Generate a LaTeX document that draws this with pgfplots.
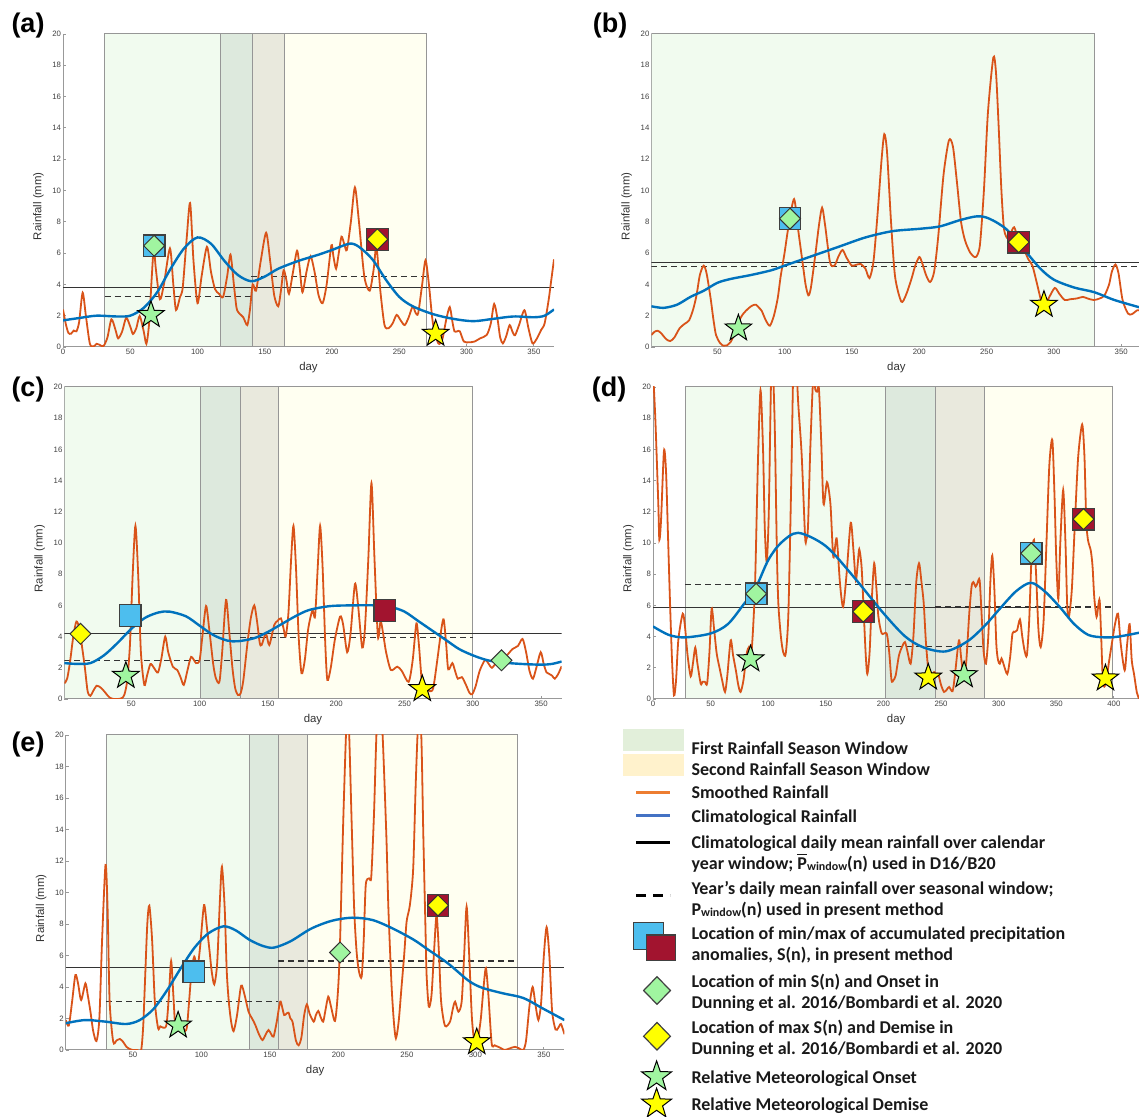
\documentclass[border=0pt]{standalone}
\usepackage{fontspec}
\setmainfont{Carlito}
\newfontfamily\arialfont{Liberation Sans}
\usepackage{pgfplots}
\pgfplotsset{compat=1.18}

\definecolor{orC}{RGB}{217,83,25}
\definecolor{blC}{RGB}{0,114,189}
\definecolor{mBlue}{RGB}{77,190,238}
\definecolor{mRed}{RGB}{162,20,47}
\definecolor{mGreen}{RGB}{160,245,160}
\definecolor{mYellow}{RGB}{255,255,0}
\definecolor{sG}{RGB}{241,251,239}
\definecolor{sGD}{RGB}{221,233,221}
\definecolor{sB}{RGB}{233,233,221}
\definecolor{sY}{RGB}{255,255,241}
\definecolor{sEdge}{RGB}{150,150,150}
\definecolor{lG}{RGB}{226,239,218}
\definecolor{lY}{RGB}{255,242,204}
\definecolor{lO}{RGB}{237,125,49}
\definecolor{lB}{RGB}{68,114,196}

\pgfdeclareplotmark{fstar}{%
  \pgfpathmoveto{\pgfpointpolar{90}{\pgfplotmarksize}}%
  \pgfpathlineto{\pgfpointpolar{126}{0.4\pgfplotmarksize}}%
  \pgfpathlineto{\pgfpointpolar{162}{\pgfplotmarksize}}%
  \pgfpathlineto{\pgfpointpolar{198}{0.4\pgfplotmarksize}}%
  \pgfpathlineto{\pgfpointpolar{234}{\pgfplotmarksize}}%
  \pgfpathlineto{\pgfpointpolar{270}{0.4\pgfplotmarksize}}%
  \pgfpathlineto{\pgfpointpolar{306}{\pgfplotmarksize}}%
  \pgfpathlineto{\pgfpointpolar{342}{0.4\pgfplotmarksize}}%
  \pgfpathlineto{\pgfpointpolar{18}{\pgfplotmarksize}}%
  \pgfpathlineto{\pgfpointpolar{54}{0.4\pgfplotmarksize}}%
  \pgfpathclose
  \pgfusepathqfillstroke
}

\pgfplotsset{
  panel/.style={
    scale only axis, ymin=0, ymax=20, ytick={0,2,...,20},
    axis x line*=bottom, axis y line*=left,
    axis line style={draw=black!40, line width=0.5pt},
    tick style={black!40, line width=0.4pt},
    major tick length=1.6pt, tick align=inside,
    tick label style={font=\arialfont\fontsize{3.9}{4}\selectfont, text=black!75},
    xticklabel style={inner sep=0.6pt},
    yticklabel style={inner sep=0.8pt},
    /pgf/number format/assume math mode=true,
    xlabel={day}, ylabel={Rainfall (mm)},
    label style={font=\arialfont\fontsize{5.7}{6}\selectfont, text=black!80},
    ylabel style={at={(ticklabel cs:0.45)}},
  },
  orange/.style={orC, line width=0.9pt, smooth, tension=0.45, no marks},
  clim/.style={blC, line width=1.2pt, smooth, no marks},
  solidmean/.style={black!80, line width=0.7pt, no marks},
  dashmean/.style={black!80, line width=0.6pt, dash pattern=on 3pt off 2pt, no marks},
  sqB/.style={only marks, mark=square*, mark size=5.4pt, mark options={fill=mBlue, draw=black!75, line width=0.6pt}},
  sqR/.style={only marks, mark=square*, mark size=5.4pt, mark options={fill=mRed, draw=black!75, line width=0.6pt}},
  dG/.style={only marks, mark=square*, mark size=3.7pt, mark options={rotate=45, fill=mGreen, draw=black!80, line width=0.5pt}},
  dY/.style={only marks, mark=square*, mark size=3.7pt, mark options={rotate=45, fill=mYellow, draw=black!80, line width=0.5pt}},
  stG/.style={only marks, mark=fstar, mark size=7pt, mark options={fill=mGreen, draw=black, line width=0.5pt}},
  stY/.style={only marks, mark=fstar, mark size=7pt, mark options={fill=mYellow, draw=black, line width=0.5pt}},
}
\newcommand{\shadewin}[3]{\addplot[fill=#3, draw=sEdge, line width=0.5pt] coordinates {(#1,0) (#1,20) (#2,20) (#2,0)} -- cycle;}
\newcommand{\lstar}[1]{\filldraw[overlay, fill=#1, draw=black, line width=0.5pt] (16.6pt,0pt) +(90:7.9pt) -- +(126:3.15pt) -- +(162:7.9pt) -- +(198:3.15pt) -- +(234:7.9pt) -- +(270:3.15pt) -- +(306:7.9pt) -- +(342:3.15pt) -- +(18:7.9pt) -- +(54:3.15pt) -- cycle;}
\newcommand{\ldiam}[1]{\filldraw[overlay, fill=#1, draw=black!75, line width=0.6pt] (16.8pt,-6.3pt) -- (23.5pt,0.6pt) -- (16.8pt,7.5pt) -- (10.1pt,0.6pt) -- cycle;}

\begin{document}
\begin{tikzpicture}
\path[use as bounding box] (0,0) rectangle (569.5pt,558.5pt);
\tikzset{plab/.style={font=\arialfont\bfseries\fontsize{13.5}{14}\selectfont}}
\node[plab] at (14pt,545.5pt) {(a)};
\node[plab] at (305pt,545.5pt) {(b)};
\node[plab] at (14pt,363.5pt) {(c)};
\node[plab] at (304.5pt,363.5pt) {(d)};
\node[plab] at (14pt,186pt) {(e)};

% ---------------- (a)
\begin{axis}[panel, at={(31.5pt,385pt)}, anchor=south west, width=245.5pt, height=156.5pt,
  xmin=0, xmax=365, xtick={0,50,...,350}]
\shadewin{31}{117}{sG}
\shadewin{117}{141}{sGD}
\shadewin{141}{165}{sB}
\shadewin{165}{270}{sY}
\addplot[solidmean] coordinates {(0,3.8) (365,3.8)};
\addplot[dashmean] coordinates {(31,3.25) (140,3.25)};
\addplot[dashmean] coordinates {(140,4.5) (270,4.5)};
\addplot[orange] coordinates {(0,2.4) (2,1.5) (4,0.9) (6,0.85) (8,1.05) (10,1.0) (12,1.6) (14.6,3.47) (17,2.0) (20,0.2) (23,0.05) (25,0.2) (27,0.15) (30,0.05) (33,0.6) (36,1.77) (39,1.1) (41,0.55) (44,1.0) (47,1.87) (50,1.3) (52,0.83) (54.5,1.2) (57,1.98) (60,1.0) (62,0.2) (64,1.5) (66,4.5) (67.5,6.3) (69,5.0) (72,3.05) (75,4.0) (79.5,6.3) (82,4.0) (84,2.36) (87,3.2) (89,3.8) (92,7.0) (94.5,9.2) (97,5.5) (100,2.8) (103,4.5) (107,6.4) (110,4.8) (113,3.7) (116,3.4) (119,3.2) (122,4.5) (124.5,5.9) (127,4.0) (129,2.5) (131,2.15) (134,1.9) (137,1.4) (139,2.4) (141,4.0) (143.5,3.6) (147,5.5) (151,7.3) (154,5.5) (157,3.3) (160,2.6) (162,3.6) (164,4.9) (166,4.3) (168,3.4) (171,4.8) (174,6.15) (176,5.0) (178,3.5) (181,4.8) (184,5.8) (187,4.8) (190,3.3) (193,2.8) (196,4.0) (199.5,6.5) (201,5.8) (203,5.0) (205,6.0) (207,7.05) (209,6.6) (211,6.2) (214,8.0) (217,10.2) (220,8.0) (224,4.5) (228,3.6) (231,5.0) (233,6.4) (236,3.5) (239,1.4) (242,1.2) (245,1.5) (248,2.05) (251,1.7) (254,1.4) (257,1.9) (260,2.6) (262,2.2) (264,2.15) (267,4.0) (269.5,5.55) (272,4.0) (275,1.5) (279,0.23) (282,0.5) (285,1.8) (287.5,2.55) (289.5,1.6) (291,1.0) (293,1.0) (295,1.0) (298,0.35) (302,0.3) (306,0.35) (310,0.55) (315,0.77) (318,1.5) (320.5,2.75) (323,1.8) (325,0.6) (327,0.23) (329.5,0.7) (332,1.4) (334,1.0) (336,0.75) (339,1.4) (343,2.35) (346,1.2) (349,0.23) (352,0.5) (355.5,1.1) (358,1.5) (361,3.0) (363,4.3) (365,5.6)};
\addplot[clim] coordinates {(0,1.7) (12,1.85) (25,2.0) (40,1.95) (50,2.0) (60,2.5) (70,3.5) (80,5.0) (90,6.3) (100,7.0) (110,6.6) (120,5.5) (130,4.6) (140,4.2) (150,4.5) (160,5.0) (175,5.5) (190,5.9) (200,6.2) (213,6.6) (220,6.4) (230,5.6) (240,4.3) (250,3.2) (260,2.6) (275,2.1) (290,1.8) (305,1.65) (320,1.8) (335,1.95) (350,1.9) (358,2.0) (365,2.4)};
\addplot[sqB] coordinates {(67.8,6.47)};
\addplot[dG] coordinates {(67.8,6.47)};
\addplot[sqR] coordinates {(233.7,6.88)};
\addplot[dY] coordinates {(233.7,6.88)};
\addplot[stG] coordinates {(65.4,2.05)};
\addplot[stY] coordinates {(277,0.85)};
\end{axis}

% ---------------- (b)
\begin{axis}[panel, at={(325.7pt,385pt)}, anchor=south west, width=245pt, height=156.5pt,
  xmin=1, xmax=365, xtick={50,100,...,350}]
\shadewin{1}{330}{sG}
\addplot[solidmean] coordinates {(1,5.4) (365,5.4)};
\addplot[dashmean] coordinates {(1,5.15) (365,5.15)};
\addplot[orange] coordinates {(1,0.76) (3,0.95) (5.5,1.04) (8,0.9) (12,0.5) (15,0.38) (18,0.6) (22,1.2) (26,1.5) (29,1.7) (32,2.4) (34.5,3.3) (37,4.6) (39.8,5.2) (42,4.7) (45,3.1) (47,1.8) (49,0.76) (52,0.25) (54.6,0.08) (57,0.1) (60,0.34) (63,0.9) (65,1.5) (69,2.1) (73,2.46) (76,2.65) (78.7,2.7) (81,2.5) (83,2.3) (86,1.7) (89,1.36) (92,2.0) (94.8,3.1) (97,4.5) (100,6.06) (103,7.8) (107,9.45) (110,7.5) (113.6,5.2) (115.5,4.0) (117.6,3.3) (119.5,3.8) (123,6.06) (125.5,7.8) (127.8,8.9) (130,7.8) (133.7,5.4) (137,5.2) (140,5.8) (143,6.2) (146,5.7) (149.8,5.2) (153,5.25) (156.5,5.3) (160,5.0) (163,4.4) (166,5.5) (169,8.5) (172,12.0) (174,13.6) (176,12.5) (179,8.0) (182,4.5) (186.6,2.9) (190,3.3) (194,4.3) (197,5.2) (200,5.75) (202,5.4) (205,4.6) (208,4.15) (211,4.8) (214,7.0) (218,11.0) (222,13.2) (225,12.8) (228,10.5) (231,8.0) (234,6.8) (238,6.0) (242,5.75) (245,6.5) (248,10.0) (251,15.0) (255,18.5) (257,17.5) (259,14.0) (261,10.0) (263,7.5) (266,6.9) (268,7.3) (270.5,7.65) (273,7.0) (276,6.3) (278.6,6.06) (281,5.6) (284,5.2) (287,4.2) (290.7,2.9) (293,2.67) (296,3.1) (300.6,3.77) (304,3.4) (308,3.0) (312,3.05) (317,3.1) (321.5,3.2) (325,3.1) (329.6,3.0) (334,3.1) (337.6,3.3) (341,4.0) (343,4.8) (345.7,5.27) (348,4.7) (351,3.0) (355,2.14) (358,2.1) (362,2.35) (365,2.3)};
\addplot[clim] coordinates {(1,2.6) (10,2.5) (20,2.7) (30,3.2) (40,3.6) (50,4.1) (60,4.35) (75,4.6) (90,4.9) (100,5.2) (120,5.8) (140,6.4) (160,7.0) (180,7.4) (200,7.55) (215,7.7) (230,8.1) (243,8.35) (252,8.2) (265,7.5) (280,6.0) (290,5.0) (300,4.3) (315,3.8) (330,3.5) (345,3.0) (365,2.5)};
\addplot[sqB] coordinates {(104,8.2)};
\addplot[dG] coordinates {(104,8.2)};
\addplot[sqR] coordinates {(273.8,6.7)};
\addplot[dY] coordinates {(273.8,6.7)};
\addplot[stG] coordinates {(65.6,1.19)};
\addplot[stY] coordinates {(292.6,2.7)};
\end{axis}

% ---------------- (c)
\begin{axis}[panel, at={(32.2pt,209pt)}, anchor=south west, width=248.6pt, height=156pt,
  xmin=1, xmax=365, xtick={50,100,...,350}]
\shadewin{1}{101}{sG}
\shadewin{101}{129.6}{sGD}
\shadewin{129.6}{157.8}{sB}
\shadewin{157.8}{300}{sY}
\addplot[solidmean] coordinates {(1,4.2) (365,4.2)};
\addplot[dashmean] coordinates {(1,2.45) (129.6,2.45)};
\addplot[dashmean] coordinates {(129.6,3.95) (300,3.95)};
\addplot[orange] coordinates {(1,1.0) (3,1.3) (5,2.3) (7.5,4.0) (9.8,4.97) (12,4.5) (14,3.3) (16,2.0) (18,0.5) (20,0.2) (22,0.5) (24.7,0.85) (28,0.7) (31,0.4) (34,0.1) (37,0.0) (40,0.0) (43,0.05) (45,0.3) (47,1.2) (49,3.5) (51,8.0) (53,11.1) (55,8.0) (57,3.0) (59.5,0.9) (61.5,1.5) (64,2.24) (66.5,2.0) (69.5,1.7) (72,2.6) (74.8,4.0) (77,3.0) (80.4,2.07) (83.6,1.86) (86,1.4) (88.4,0.9) (91,1.8) (93.8,2.7) (97.4,2.3) (100,2.5) (102,4.0) (104.7,5.96) (107,4.5) (110,2.2) (112,1.3) (114.5,1.1) (116.5,3.0) (119.3,6.35) (121.5,4.5) (124,2.0) (126,0.7) (128,0.26) (130,0.36) (132,1.2) (135,3.57) (137.5,5.2) (140,6.0) (142,5.0) (144,3.6) (145.4,3.46) (148.5,4.2) (151,3.46) (154.6,4.74) (157,5.0) (159.5,5.17) (161.5,4.5) (163,4.0) (165,5.5) (167,9.0) (168.7,11.1) (170.5,8.5) (172.5,4.0) (174.6,1.65) (177,2.5) (179.5,4.5) (182.6,5.7) (184.5,5.3) (186.5,8.5) (188.2,11.1) (190,8.5) (192,3.5) (193.5,1.22) (196,2.0) (199,3.8) (202.8,5.28) (205,4.8) (208,3.0) (210.5,4.2) (213.7,7.37) (216,6.0) (219,3.3) (221,4.5) (223.5,9.0) (225.8,13.84) (228,9.0) (230.5,4.0) (232.5,5.0) (234.5,4.1) (236.5,3.0) (240,1.86) (244.7,2.07) (248,1.8) (253,1.1) (256,2.5) (258.7,4.85) (260.5,3.5) (263,0.9) (266,0.7) (268.5,0.5) (271,0.7) (274,2.5) (277,4.5) (278.7,5.1) (280.5,3.5) (282,1.9) (285,2.3) (287,1.8) (289,1.3) (292,1.4) (295,0.9) (297.5,0.4) (299.5,0.3) (302,0.8) (305,1.8) (309,2.5) (312,2.2) (314,2.0) (318,2.4) (322,2.6) (325,2.8) (329,3.2) (333,3.4) (336.4,3.85) (339,3.0) (341.5,1.8) (344,1.3) (346.5,2.0) (349.7,3.0) (352,2.2) (354,1.7) (356,1.6) (358,1.5) (360,1.3) (362.5,1.6) (365,2.1)};
\addplot[clim] coordinates {(1,2.3) (10,2.25) (20,2.3) (30,2.8) (40,3.6) (50,4.5) (60,5.2) (70,5.55) (78,5.6) (90,5.3) (100,4.7) (110,4.1) (120,3.75) (128,3.7) (140,3.9) (150,4.3) (160,4.8) (170,5.3) (180,5.7) (195,5.95) (210,6.0) (230,6.0) (240,5.9) (250,5.6) (260,5.0) (270,4.4) (280,3.8) (290,3.2) (300,2.8) (310,2.5) (320,2.35) (335,2.25) (350,2.2) (358,2.25) (365,2.4)};
\addplot[sqB] coordinates {(49.2,5.35)};
\addplot[sqR] coordinates {(235.6,5.67)};
\addplot[dY] coordinates {(12.8,4.18)};
\addplot[dG] coordinates {(321,2.48)};
\addplot[stG] coordinates {(46,1.49)};
\addplot[stY] coordinates {(263,0.64)};
\end{axis}

% ---------------- (d)
\begin{axis}[panel, at={(326.5pt,209pt)}, anchor=south west, width=243.1pt, height=156pt,
  xmin=0, xmax=422, xtick={0,50,...,400}]
\shadewin{28}{202}{sG}
\shadewin{202}{245}{sGD}
\shadewin{245}{288}{sB}
\shadewin{288}{399}{sY}
\addplot[solidmean] coordinates {(0,5.85) (365,5.85)};
\addplot[dashmean] coordinates {(28,7.35) (245,7.35)};
\addplot[dashmean] coordinates {(202,3.35) (288,3.35)};
\addplot[dashmean] coordinates {(245,5.9) (399,5.9)};
\addplot[orange] coordinates {(0,21) (2,18) (4.6,12.5) (5.5,10.2) (7,11.5) (9.5,15.9) (11.3,14.6) (13,10.5) (14.8,6.1) (16.5,2.5) (18.2,0.23) (20,1.2) (22,3.8) (25.8,5.47) (27.8,4.6) (30,2.8) (32.7,1.45) (34.5,2.2) (36.7,3.3) (38.5,2.3) (41.4,0.98) (43,1.1) (45,1.1) (47,1.0) (49,3.0) (50.9,5.8) (53,4.5) (55.3,2.9) (58.2,1.84) (60,1.2) (62.5,0.45) (64.5,1.5) (67.4,3.76) (69.5,2.8) (72,1.8) (74,0.9) (76,0.45) (78.5,1.2) (81.3,2.9) (83.3,3.33) (85.6,3.1) (88.5,7.2) (91,15.0) (93.3,19.8) (95.5,16.0) (97,11.0) (98.7,8.8) (100.5,12.0) (103,22) (105.5,18) (107.5,9.5) (108.8,6.1) (111,4.0) (113,3.0) (115.2,2.9) (117.5,5.5) (120,14) (122,22) (124,22) (126,19) (129,15.7) (132,10.4) (133,10.2) (134.5,11.0) (136.5,16.0) (139,20.5) (141,19.8) (142.5,19.7) (144,19.9) (146,16.5) (148,12.5) (151,13.9) (154,12.5) (156.5,9.1) (159.4,10.3) (162.3,7.4) (165,5.9) (168,8.0) (171.6,11.3) (174,9.5) (176,7.6) (177.5,8.5) (179,9.6) (181,8.5) (182.6,6.1) (184.5,3.0) (186,1.6) (188,3.0) (190,6.5) (192,8.7) (194,7.0) (195.6,5.3) (198.5,4.2) (202.8,4.2) (205,3.0) (207,1.2) (208.6,1.2) (210.6,1.5) (213.5,2.8) (216.5,3.4) (218.7,3.65) (221,3.0) (223.6,2.26) (226,4.0) (228.5,7.5) (230.9,8.7) (233,7.5) (235,6.1) (237,3.5) (240,1.1) (242,1.5) (244,1.73) (246,1.6) (247.6,1.6) (250,0.9) (252.6,0.45) (255,0.6) (257,0.77) (260,0.5) (262,1.5) (265.5,3.76) (267.5,2.6) (269.9,1.3) (272,2.5) (274.5,5.5) (276.5,7.2) (278,7.5) (280,7.2) (281.5,7.4) (283.5,7.6) (285.5,5.0) (287,3.0) (289,2.26) (291,4.0) (292.8,7.5) (294.5,9.2) (296.3,7.0) (298,3.5) (299.5,2.48) (301,2.26) (302.5,2.6) (304,2.3) (307.5,1.6) (310,2.7) (312,4.2) (314,4.3) (316,4.4) (318.5,5.1) (320.5,4.0) (322.5,3.1) (324.5,2.8) (326.5,5.0) (328.5,9.0) (330.7,10.2) (332.5,8.0) (334.5,4.5) (336.5,3.33) (339,5.0) (341.5,10.0) (344,15.0) (346.6,16.6) (348.5,13.0) (350,9.0) (351.8,6.4) (353.5,10.0) (356,13.4) (358,10.0) (359.5,6.0) (361,5.26) (363.5,7.0) (366,11.0) (369,15.5) (372.5,17.6) (374.5,15.5) (376,11.5) (377.5,10.2) (380,9.5) (381.5,8.5) (383,6.5) (385,5.26) (386.5,6.0) (387.7,6.3) (389,4.0) (390.6,1.0) (393,1.0) (396,2.5) (398.7,3.76) (401,4.8) (403.6,5.47) (406,3.5) (409.4,1.84) (411.5,3.5) (413.7,4.8) (415.5,2.5) (417.5,1.6) (420,0.4) (422,0)};
\addplot[clim] coordinates {(0,4.65) (14,4.1) (28,3.95) (50,4.2) (65,4.8) (79,6.1) (89,7.1) (100,8.9) (111,10.0) (126,10.65) (150,9.8) (174.5,7.8) (200,5.5) (219,4.0) (235,3.3) (254,3.05) (273,3.7) (288,4.7) (300,5.7) (315,6.9) (328,7.45) (340,6.9) (353,5.9) (365.6,4.8) (378,4.1) (392,3.95) (404,4.0) (422,4.25)};
\addplot[sqB] coordinates {(89.5,6.74) (328.3,9.34)};
\addplot[dG] coordinates {(89.5,6.74) (328.3,9.34)};
\addplot[sqR] coordinates {(182.5,5.6) (373.6,11.53)};
\addplot[dY] coordinates {(182.5,5.6) (373.6,11.53)};
\addplot[stG] coordinates {(84.7,2.55) (270,1.53)};
\addplot[stY] coordinates {(238.9,1.38) (392.7,1.32)};
\end{axis}

% ---------------- (e)
\begin{axis}[panel, at={(32.9pt,33.5pt)}, anchor=south west, width=249.3pt, height=157.5pt,
  xmin=1, xmax=365, xtick={50,100,...,350}]
\shadewin{30.5}{135.3}{sG}
\shadewin{135.3}{156}{sGD}
\shadewin{156}{177.2}{sB}
\shadewin{177.2}{330.5}{sY}
\addplot[solidmean] coordinates {(1,5.25) (365,5.25)};
\addplot[dashmean] coordinates {(30.5,3.1) (156,3.1)};
\addplot[dashmean] coordinates {(156,5.65) (330.5,5.65)};
\addplot[orange] coordinates {(1,1.9) (3.2,1.55) (5.5,3.0) (8,4.76) (10,4.2) (12.2,3.17) (15.3,4.23) (17,3.5) (19,2.43) (21,1.2) (23.4,0.57) (25.5,2.0) (27.5,7.0) (30,11.75) (31.5,9.0) (33,3.1) (35.6,0.53) (38,0.6) (40.5,0.7) (43,0.5) (45.3,0.2) (48,0.05) (50,0) (53,0) (56,0) (57.5,1.5) (58.7,4.1) (60.5,8.0) (62,9.16) (64,7.0) (66,3.07) (68.4,1.38) (70,1.5) (72,1.42) (74.5,1.6) (76.3,3.5) (77.9,5.65) (79.5,3.5) (81,1.38) (83,1.3) (85.4,1.6) (88,1.2) (89.5,1.5) (91,3.07) (92.8,5.0) (94.8,5.93) (97,5.2) (99,6.5) (101.9,9.2) (104,7.8) (106,6.24) (107.5,5.0) (109.4,4.17) (111.5,5.5) (113.5,9.5) (115,11.64) (117,9.0) (118.5,5.0) (120,3.07) (121.7,1.8) (123.5,1.2) (126,2.2) (129,4.08) (131.5,3.5) (134.4,2.43) (137,2.0) (139.3,1.6) (142,1.0) (144.6,0.63) (147,1.0) (149,1.27) (151,1.0) (152.7,0.85) (155,1.8) (157.5,3.07) (159,2.7) (160.4,2.22) (162,2.3) (163.6,2.37) (165,2.0) (166.5,1.8) (169,0.6) (171,0.3) (173,0.8) (175,2.2) (177,2.9) (179,2.3) (182,1.8) (183.5,2.2) (185.3,2.48) (187,2.1) (188.9,1.8) (190.5,2.5) (192.6,3.39) (194.5,2.8) (197.5,1.84) (199.5,3.5) (201,6.24) (203.6,14.7) (206,21) (207.5,21) (209.6,14.7) (211.5,9.0) (213.3,6.24) (215,5.0) (217,4.66) (218.5,7.0) (220,10.5) (222.5,10.9) (224,11.0) (226,15.0) (228,20.5) (230,21) (232,20.5) (235,13.65) (236.5,9.0) (238.8,4.13) (240.5,1.8) (242,0.74) (244,1.8) (246,3.9) (248,6.0) (249.8,8.15) (252.2,9.2) (254.6,11.5) (256.5,17.0) (258.4,21) (260.5,20) (262,13.65) (263.5,8.0) (264.4,4.76) (266,2.75) (268,3.5) (270,6.5) (271.7,8.57) (273.5,6.0) (275,3.07) (277.8,1.54) (281.5,1.8) (283.5,2.6) (285.2,3.07) (287.6,2.43) (290,3.07) (291.8,6.0) (293.6,9.1) (295.5,6.0) (297.5,2.0) (299.7,0.3) (302,0.8) (304,2.0) (306,4.0) (307.7,5.2) (309.5,3.5) (311.9,0.42) (314,0.3) (316.7,0.2) (319,0.1) (321.5,0) (325,0.1) (328.9,0.2) (332,0.1) (335,0) (337,0.6) (339.5,2.8) (341.8,4.0) (344,2.8) (346,1.9) (348,3.0) (350,6.0) (352,7.8) (354,6.0) (356,2.5) (358.5,1.3) (360.5,1.4) (362.5,1.65) (365,1.0)};
\addplot[clim] coordinates {(1,1.7) (15,1.9) (30,1.8) (45,1.65) (55,1.9) (65,2.6) (75,3.8) (85,5.2) (95,6.5) (105,7.4) (116,7.85) (125,7.6) (135,7.0) (145,6.6) (153,6.5) (165,6.9) (180,7.7) (195,8.2) (210,8.4) (225,8.25) (240,7.7) (255,7.0) (265,6.4) (280,5.5) (295,4.4) (305,3.95) (320,3.6) (335,3.3) (350,2.6) (365,1.9)};
\addplot[sqB] coordinates {(94.5,4.97)};
\addplot[sqR] coordinates {(272.7,9.18)};
\addplot[dY] coordinates {(272.7,9.18)};
\addplot[dG] coordinates {(201.2,6.19)};
\addplot[stG] coordinates {(83,1.56)};
\addplot[stY] coordinates {(301,0.5)};
\end{axis}

% ---------------- legend
\begin{axis}[at={(311.5pt,189.9pt)}, anchor=north west, scale only axis, width=10pt, height=10pt,
  hide axis, xmin=0, xmax=1, ymin=0, ymax=1,
  legend cell align=left,
  legend style={at={(0,1)}, anchor=north west, draw=none, fill=none, inner sep=0pt, outer sep=0pt,
    row sep=0pt, font=\bfseries\fontsize{9}{10.5}\selectfont, text=black!90,
    cells={align=left}, nodes={inner sep=0pt, text depth=, text height=},
    /tikz/every odd column/.append style={column sep=3.85pt}}]
\addlegendimage{legend image code/.code={\path (0pt,-4pt) (30pt,4pt); \fill[overlay, lG] (0pt,-1.5pt) rectangle (30pt,9pt);}}
\addlegendentry{\rule[-2.05pt]{0pt}{10.5pt}First Rainfall Season Window}
\addlegendimage{legend image code/.code={\path (0pt,-4pt) (30pt,4pt); \fill[overlay, lY] (0pt,-3.5pt) rectangle (30pt,7pt);}}
\addlegendentry{\rule[-2.05pt]{0pt}{10.5pt}Second Rainfall Season Window}
\addlegendimage{legend image code/.code={\path (0pt,-4pt) (30pt,4pt); \draw[overlay, lO, line width=1.5pt] (6.3pt,0pt) -- (23.5pt,0pt);}}
\addlegendentry{\rule[-3.2pt]{0pt}{12.8pt}Smoothed Rainfall}
\addlegendimage{legend image code/.code={\path (0pt,-4pt) (30pt,4pt); \draw[overlay, lB, line width=1.5pt] (6.3pt,0pt) -- (23.5pt,0pt);}}
\addlegendentry{\rule[-2.25pt]{0pt}{10.9pt}Climatological Rainfall}
\addlegendimage{legend image code/.code={\path (0pt,-4pt) (30pt,4pt); \draw[overlay, black, line width=1.5pt] (6.3pt,4.75pt) -- (23.5pt,4.75pt);}}
\addlegendentry{\rule{0pt}{10.75pt}Climatological daily mean rainfall over calendar\\year window; \smash{$\overline{\hbox{P}}$}\raisebox{-0.6pt}{\fontsize{6}{6}\selectfont window}(n) used in D16/B20\rule[-4.35pt]{0pt}{4.35pt}}
\addlegendimage{legend image code/.code={\path (0pt,-4pt) (30pt,4pt); \draw[overlay, black, line width=1.5pt, dash pattern=on 4.8pt off 3.8pt] (6.3pt,1.75pt) -- (23.5pt,1.75pt);}}
\addlegendentry{\rule{0pt}{8.45pt}Year’s daily mean rainfall over seasonal window;\\P\raisebox{-0.6pt}{\fontsize{6}{6}\selectfont window}(n) used in present method\rule[-2.05pt]{0pt}{2.05pt}}
\addlegendimage{legend image code/.code={\path (0pt,-4pt) (30pt,4pt);
  \filldraw[overlay, fill=mBlue, draw=black!75, line width=0.6pt] (5pt,-2.75pt) rectangle (19.85pt,10.75pt);
  \filldraw[overlay, fill=mRed, draw=black!75, line width=0.6pt] (11.5pt,-8.45pt) rectangle (26pt,4.4pt);}}
\addlegendentry{\rule{0pt}{9.95pt}Location of min/max of accumulated precipitation\\anomalies, S(n), in present method\rule[-3.55pt]{0pt}{3.55pt}}
\addlegendimage{legend image code/.code={\path (0pt,-4pt) (30pt,4pt); \ldiam{mGreen}}}
\addlegendentry{\rule{0pt}{9.9pt}Location of min S(n) and Onset in\\Dunning et al. 2016/Bombardi et al. 2020\rule[-3.5pt]{0pt}{3.5pt}}
\addlegendimage{legend image code/.code={\path (0pt,-4pt) (30pt,4pt); \ldiam{mYellow}}}
\addlegendentry{\rule{0pt}{8.9pt}Location of max S(n) and Demise in\\Dunning et al. 2016/Bombardi et al. 2020\rule[-2.5pt]{0pt}{2.5pt}}
\addlegendimage{legend image code/.code={\path (0pt,-4pt) (30pt,4pt); \lstar{mGreen}}}
\addlegendentry{\rule[-5.45pt]{0pt}{17.3pt}Relative Meteorological Onset}
\addlegendimage{legend image code/.code={\path (0pt,-4pt) (30pt,4pt); \lstar{mYellow}}}
\addlegendentry{\rule[-1.8pt]{0pt}{10pt}Relative Meteorological Demise}
\end{axis}
\end{tikzpicture}
\end{document}
